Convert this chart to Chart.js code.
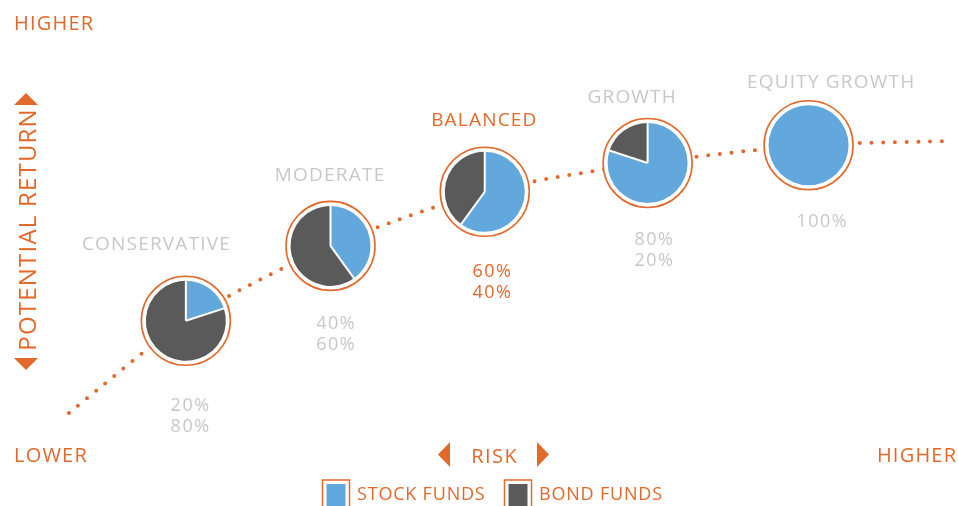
<!DOCTYPE html>
<html>
<head>
<meta charset="utf-8">
<script src="https://cdn.jsdelivr.net/npm/chart.js@4/dist/chart.umd.min.js"></script>
<style>
html, body { margin: 0; padding: 0; background: #fff; }
#wrap { position: relative; width: 958px; height: 506px; }
</style>
</head>
<body>
<div id="wrap"><canvas id="riskChart" width="958" height="506"></canvas></div>
<script>
// portfolio mixes, percent
var profiles = ['CONSERVATIVE', 'MODERATE', 'BALANCED', 'GROWTH', 'EQUITY GROWTH'];
var stockFunds = [20, 40, 60, 80, 100];
var bondFunds = [80, 60, 40, 20, 0];
// where each mix sits on the risk / return plane (0-100)
var riskPos = [19.4, 34.5, 50.6, 67.6, 84.4];
var returnPos = [36.6, 51.4, 62.1, 67.8, 71.3];
// dotted trend line
var trendRisk = [7.2, 19.4, 34.5, 50.6, 67.6, 84.4, 98.6];
var trendReturn = [18.4, 36.6, 51.4, 62.1, 67.8, 71.3, 72.1];
var highlighted = 'BALANCED';

var ORANGE = '#e2692b', BLUE = '#62a8dc', DARK = '#5a5a5a', GREY = '#c8c8c8';
var FONT = '"Open Sans", "Noto Sans", sans-serif';

// label offsets from each pie centre (px)
var nameDx = [-30, -1, -1, -16, 22];
var nameDy = [-71, -65, -66, -60, -57];
var pctDx = [4, 5, 7, 6, 13];
var pctDy = [90, 83, 85, 82, 82];

function txt(ctx, s, x, y, size, color, align, spacing) {
    ctx.save();
    ctx.font = size + 'px ' + FONT;
    ctx.fillStyle = color;
    ctx.textAlign = align || 'left';
    ctx.textBaseline = 'alphabetic';
    ctx.letterSpacing = (spacing || 0) + 'px';
    if (align == 'center') x += (spacing || 0) / 2;
    if (align == 'right') x += (spacing || 0);
    ctx.fillText(s, x, y);
    ctx.restore();
}

function tri(ctx, pts) {
    ctx.beginPath();
    ctx.moveTo(pts[0], pts[1]);
    ctx.lineTo(pts[2], pts[3]);
    ctx.lineTo(pts[4], pts[5]);
    ctx.closePath();
    ctx.fillStyle = ORANGE;
    ctx.fill();
}

var piePlugin = {
    id: 'pies',
    afterDatasetsDraw: function(chart) {
        var ctx = chart.ctx;
        var pts = chart.getDatasetMeta(1).data;
        profiles.forEach(function(name, i) {
            var cx = pts[i].x, cy = pts[i].y;
            ctx.save();
            ctx.beginPath();
            ctx.arc(cx, cy, 44.5, 0, Math.PI * 2);
            ctx.fillStyle = '#fff';
            ctx.fill();
            ctx.lineWidth = 1.6;
            ctx.strokeStyle = ORANGE;
            ctx.stroke();

            var a = -Math.PI / 2;
            var cuts = [a];
            [[stockFunds[i], BLUE], [bondFunds[i], DARK]].forEach(function(p) {
                if (!p[0]) return;
                var b = a + p[0] / 100 * Math.PI * 2;
                ctx.beginPath();
                ctx.moveTo(cx, cy);
                ctx.arc(cx, cy, 40, a, b);
                ctx.closePath();
                ctx.fillStyle = p[1];
                ctx.fill();
                a = b;
                cuts.push(b);
            });
            if (stockFunds[i] > 0 && bondFunds[i] > 0) {
                ctx.strokeStyle = '#fff';
                ctx.lineWidth = 2;
                cuts.slice(0, 2).forEach(function(t) {
                    ctx.beginPath();
                    ctx.moveTo(cx, cy);
                    ctx.lineTo(cx + Math.cos(t) * 41, cy + Math.sin(t) * 41);
                    ctx.stroke();
                });
            }
            ctx.restore();

            var col = name == highlighted ? ORANGE : GREY;
            txt(ctx, name, cx + nameDx[i], cy + nameDy[i], 19, col, 'center', 1.2);
            txt(ctx, stockFunds[i] + '%', cx + pctDx[i], cy + pctDy[i], 18, col, 'center', 1.5);
            if (bondFunds[i] > 0)
                txt(ctx, bondFunds[i] + '%', cx + pctDx[i], cy + pctDy[i] + 21, 18, col, 'center', 1.5);
        });

        // axis captions
        txt(ctx, 'HIGHER', 14, 30, 20, ORANGE, 'left', 1.2);
        txt(ctx, 'LOWER', 14, 462, 20, ORANGE, 'left', 1.2);
        txt(ctx, 'HIGHER', 956, 462, 20, ORANGE, 'right', 1.2);
        txt(ctx, 'RISK', 494, 463, 20, ORANGE, 'center', 1.5);
        tri(ctx, [438, 454.5, 450, 442, 450, 467]);
        tri(ctx, [549, 454.5, 537, 442, 537, 467]);

        ctx.save();
        ctx.translate(36, 230);
        ctx.rotate(-Math.PI / 2);
        txt(ctx, 'POTENTIAL RETURN', 0, 0, 24, ORANGE, 'center', 1.2);
        ctx.restore();
        tri(ctx, [26, 93, 14, 105, 38, 105]);
        tri(ctx, [26, 370, 14, 358, 38, 358]);

        // legend
        var keys = [['STOCK FUNDS', BLUE, 322], ['BOND FUNDS', DARK, 504]];
        keys.forEach(function(k) {
            ctx.save();
            ctx.strokeStyle = ORANGE;
            ctx.lineWidth = 1.5;
            ctx.strokeRect(k[2] + 0.5, 480, 27, 30);
            ctx.fillStyle = k[1];
            ctx.fillRect(k[2] + 4.5, 484, 19, 30);
            ctx.restore();
            txt(ctx, k[0], k[2] + 35, 500, 18, ORANGE, 'left', 0.8);
        });
    }
};

var ctx = document.getElementById('riskChart').getContext('2d');
new Chart(ctx, {
    type: 'scatter',
    data: {
        datasets: [{
            data: trendRisk.map(function(x, i) { return {x: x, y: trendReturn[i]}; }),
            showLine: true,
            borderColor: ORANGE,
            borderWidth: 4,
            borderDash: [0, 11.7],
            borderCapStyle: 'round',
            pointRadius: 0,
            tension: 0.25,
            fill: false
        }, {
            data: riskPos.map(function(x, i) { return {x: x, y: returnPos[i]}; }),
            pointRadius: 0,
            showLine: false
        }]
    },
    options: {
        responsive: false,
        animation: false,
        events: [],
        layout: { padding: 0 },
        plugins: { legend: { display: false }, tooltip: { enabled: false } },
        scales: {
            x: { type: 'linear', min: 0, max: 100, display: false },
            y: { min: 0, max: 100, display: false }
        }
    },
    plugins: [piePlugin]
});
</script>
</body>
</html>
